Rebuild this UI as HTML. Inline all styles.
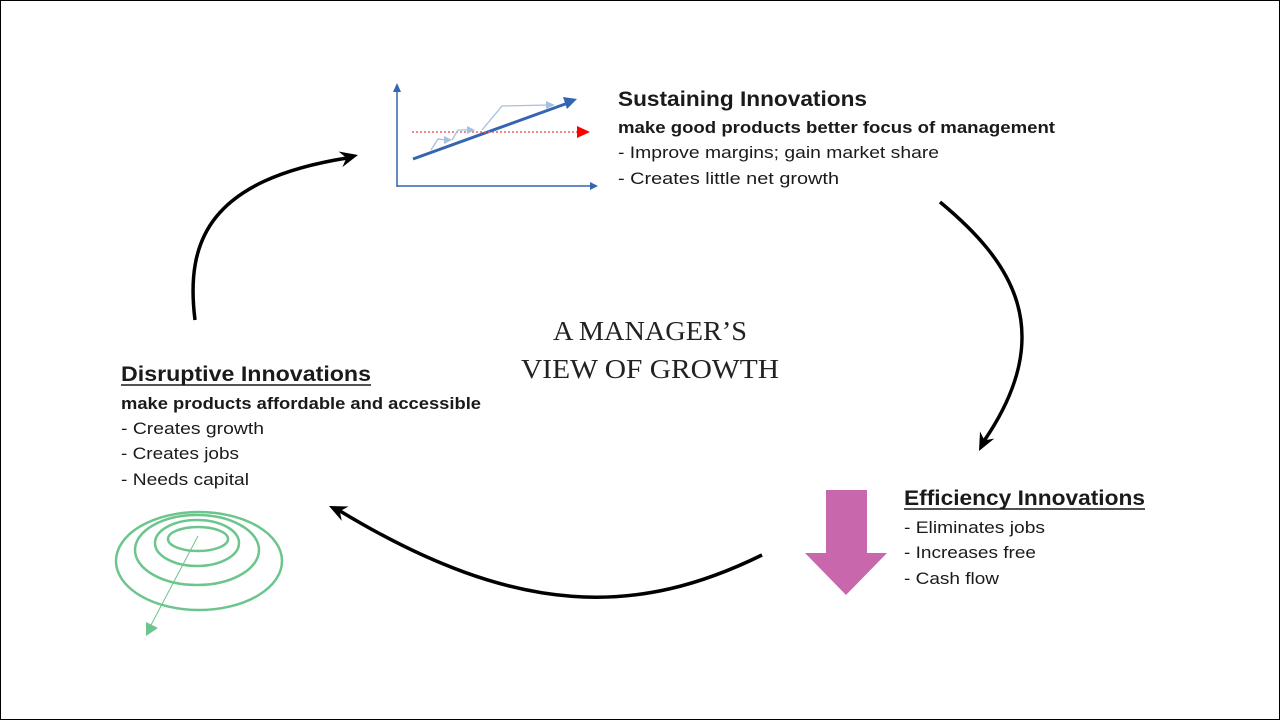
<!DOCTYPE html>
<html><head><meta charset="utf-8"><style>
html,body{margin:0;padding:0;background:#fff}
svg{display:block}
text{font-family:"Liberation Sans",sans-serif;fill:#1a1a1a}
.h{font-size:21px;font-weight:bold}
.s{font-size:17px;font-weight:bold}
.b{font-size:17px}
.t{font-family:"Liberation Serif",serif;font-size:27px;fill:#222}
</style></head><body>
<svg width="1280" height="720" viewBox="0 0 1280 720" xmlns="http://www.w3.org/2000/svg">
<rect x="0.5" y="0.5" width="1279" height="719" fill="#fff" stroke="#000" stroke-width="1"/>
<g stroke="#3465b0" fill="#3465b0">
<line x1="397" y1="187" x2="397" y2="90" stroke-width="1.5"/>
<polygon points="393,92 397,83 401,92" stroke="none"/>
<line x1="397" y1="186" x2="592" y2="186" stroke-width="1.5"/>
<polygon points="590,182 598,186 590,190" stroke="none"/>
<line x1="413" y1="159" x2="568" y2="103" stroke-width="3"/>
<polygon points="563,97 577,99 567,109" stroke="none"/>
</g>
<line x1="412" y1="132" x2="578" y2="132" stroke="#f06060" stroke-width="1.5" stroke-dasharray="2,2"/>
<polygon points="577,126 590,132 577,138" fill="#f00"/>
<g stroke="#a8bfe0" fill="#a8bfe0" stroke-width="1.3">
<polyline points="431,150 438,139 445,140" fill="none"/>
<polygon points="444,136 452,140 444,144" stroke="none"/>
<polyline points="452,140 458,130 468,130" fill="none"/>
<polygon points="467,126 475,130 467,134" stroke="none"/>
<polyline points="482,130 502,106 548,105" fill="none"/>
<polygon points="546,101 555,105 546,109" stroke="none"/>
</g>
<text class="h" x="618" y="106" textLength="249" lengthAdjust="spacingAndGlyphs">Sustaining Innovations</text>
<text class="s" x="618" y="133" textLength="437" lengthAdjust="spacingAndGlyphs">make good products better focus of management</text>
<text class="b" x="618" y="158" textLength="321" lengthAdjust="spacingAndGlyphs">- Improve margins; gain market share</text>
<text class="b" x="618" y="184" textLength="221" lengthAdjust="spacingAndGlyphs">- Creates little net growth</text>
<text class="t" x="650" y="340" text-anchor="middle" textLength="194" lengthAdjust="spacingAndGlyphs">A MANAGER’S</text>
<text class="t" x="650" y="378" text-anchor="middle" textLength="258" lengthAdjust="spacingAndGlyphs">VIEW OF GROWTH</text>
<text class="h" x="121" y="381" textLength="250" lengthAdjust="spacingAndGlyphs">Disruptive Innovations</text>
<line x1="121" y1="385" x2="371" y2="385" stroke="#1a1a1a" stroke-width="1.5"/>
<text class="s" x="121" y="409" textLength="360" lengthAdjust="spacingAndGlyphs">make products affordable and accessible</text>
<text class="b" x="121" y="434" textLength="143" lengthAdjust="spacingAndGlyphs">- Creates growth</text>
<text class="b" x="121" y="459" textLength="118" lengthAdjust="spacingAndGlyphs">- Creates jobs</text>
<text class="b" x="121" y="485" textLength="128" lengthAdjust="spacingAndGlyphs">- Needs capital</text>
<text class="h" x="904" y="505" textLength="241" lengthAdjust="spacingAndGlyphs">Efficiency Innovations</text>
<line x1="904" y1="509" x2="1145" y2="509" stroke="#1a1a1a" stroke-width="1.5"/>
<text class="b" x="904" y="533" textLength="141" lengthAdjust="spacingAndGlyphs">- Eliminates jobs</text>
<text class="b" x="904" y="558" textLength="132" lengthAdjust="spacingAndGlyphs">- Increases free</text>
<text class="b" x="904" y="584" textLength="95" lengthAdjust="spacingAndGlyphs">- Cash flow</text>
<polygon points="826,490 867,490 867,553 887,553 846,595 805,553 826,553" fill="#c867ac"/>
<g fill="none" stroke="#6cc58c" stroke-width="2.5">
<ellipse cx="199" cy="561" rx="83" ry="49"/>
<ellipse cx="197" cy="550" rx="62" ry="35"/>
<ellipse cx="197" cy="543" rx="42" ry="23"/>
<ellipse cx="198" cy="539" rx="30" ry="12"/>
</g>
<line x1="198" y1="536" x2="151" y2="625" stroke="#6cc58c" stroke-width="1"/>
<polygon points="146,622 158,628 146,636" fill="#6cc58c"/>
<g fill="none" stroke="#000" stroke-width="3.5">
<path d="M195,320 C185,240 210,180 347,158"/>
<path d="M940,202 C1010,260 1060,330 984,441"/>
<path d="M762,555 C640,615 520,620 340,511"/>
</g>
<g fill="#000">
<polygon points="358,155 342.4,167.1 346.4,157.9 338.6,151.5"/>
<polygon points="979,451 980,431.4 984.4,440.3 994.2,438.6"/>
<polygon points="329,506 348.6,506.5 339.8,511.2 341.8,520.9"/>
</g>
</svg>
</body></html>
